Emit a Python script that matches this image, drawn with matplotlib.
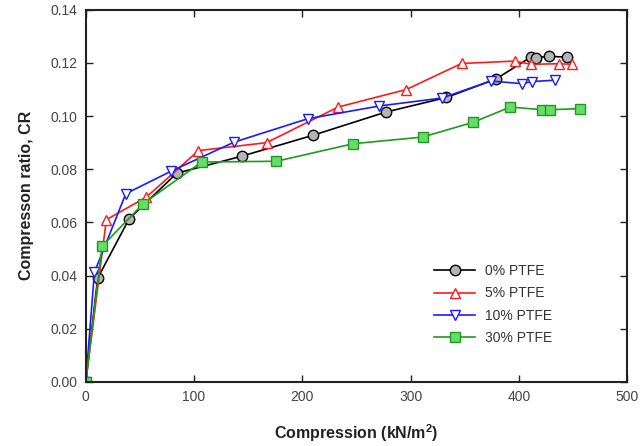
import matplotlib
matplotlib.use("Agg")
import matplotlib.pyplot as plt

plt.rcParams['font.family'] = ['Liberation Sans', 'DejaVu Sans']

# compression (kN/m2) and compression ratio for each PTFE content
x_0 = [0, 11, 40, 84, 144, 210, 277, 333, 379, 411, 416, 428, 444]
cr_0 = [0.0, 0.039, 0.0613, 0.0785, 0.0849, 0.0928, 0.1015, 0.107, 0.114, 0.1222, 0.122, 0.1225, 0.1222]

x_5 = [0, 19, 56, 104, 167, 233, 296, 347, 396, 411, 437, 449]
cr_5 = [0.0, 0.061, 0.0695, 0.087, 0.09, 0.1034, 0.110, 0.1198, 0.1207, 0.1195, 0.1197, 0.1195]

x_10 = [0, 8, 37, 79, 137, 205, 271, 329, 374, 403, 412, 433]
cr_10 = [0.0, 0.0412, 0.0708, 0.0793, 0.0902, 0.099, 0.1038, 0.1068, 0.1132, 0.1122, 0.113, 0.1135]

x_30 = [0, 15, 53, 107, 176, 247, 311, 358, 392, 421, 429, 456]
cr_30 = [0.0, 0.051, 0.067, 0.0827, 0.083, 0.0896, 0.0921, 0.0977, 0.1034, 0.1024, 0.1024, 0.1028]

fig = plt.figure(figsize=(6.4, 4.46), dpi=100)
ax = fig.add_axes([0.134, 0.144, 0.846, 0.834])

ax.plot(x_0, cr_0, color='black', lw=1.2, marker='o', ms=7.5,
        mfc='#b4b4b4', mec='black', mew=1.0, label='0% PTFE')
ax.plot(x_5, cr_5, color='#ff1a1a', lw=1.2, marker='^', ms=7.5,
        mfc='white', mec='#ff1a1a', mew=1.0, label='5% PTFE')
ax.plot(x_10, cr_10, color='#1a1aff', lw=1.2, marker='v', ms=7.5,
        mfc='white', mec='#1a1aff', mew=1.0, label='10% PTFE')
ax.plot(x_30, cr_30, color='#1f9a1f', lw=1.2, marker='s', ms=7,
        mfc='#66dd66', mec='#1f9a1f', mew=1.0, label='30% PTFE')

ax.set_xlim(0, 500)
ax.set_ylim(0, 0.14)
ax.set_xticks([0, 100, 200, 300, 400, 500])
ax.set_yticks([0.0, 0.02, 0.04, 0.06, 0.08, 0.10, 0.12, 0.14])
ax.yaxis.set_major_formatter(matplotlib.ticker.FormatStrFormatter('%.2f'))
ax.tick_params(direction='in', top=True, right=True, length=5, width=1.0,
               labelsize=10, colors='#222222', labelcolor='#444444', pad=6)
for s in ax.spines.values():
    s.set_linewidth(1.5)
    s.set_color('#222222')

ax.set_xlabel('Compression (kN/m$^\\mathregular{2}$)', fontsize=11.5, fontweight='bold',
              labelpad=13, color='#222222')
ax.set_ylabel('Compresson ratio, CR', fontsize=11.5, fontweight='bold', labelpad=12,
              color='#222222')

ax.legend(loc='lower right', bbox_to_anchor=(0.885, 0.065), frameon=False, fontsize=10,
          handlelength=3, handletextpad=0.7, labelspacing=0.6, labelcolor='#333333')

fig.savefig('out.png', dpi=100)
